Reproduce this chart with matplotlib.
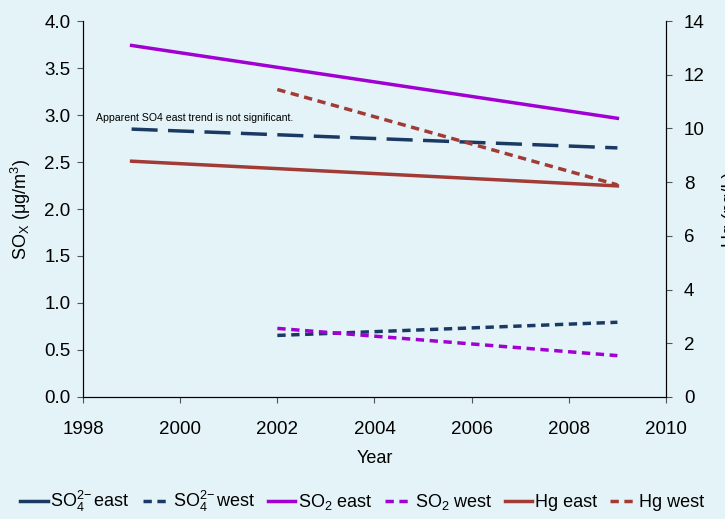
import matplotlib
matplotlib.use("Agg")
import matplotlib.pyplot as plt

# trend end points (left axis: SOx in ug/m3, right axis: Hg in ng/L)
years_long = [1999, 2009]
years_short = [2002, 2009]
so4_east = [2.85, 2.65]
so4_west = [0.655, 0.795]
so2_east = [3.74, 2.965]
so2_west = [0.73, 0.44]
hg_east = [8.78, 7.86]
hg_west = [11.45, 7.9]

navy = "#1B3A63"
purple = "#A000D2"
brick = "#A23B36"
bg = "#E4F3F7"

plt.rcParams["font.family"] = ["Liberation Sans", "DejaVu Sans"]

fig = plt.figure(figsize=(7.25, 5.19), dpi=100)
fig.patch.set_facecolor(bg)
ax = fig.add_axes([0.1145, 0.2351, 0.8041, 0.7244])
ax.set_facecolor(bg)
ax2 = ax.twinx()

lw = 2.5
long_dash = (7.5, 3.0)
short_dash = (2.4, 1.6)
ax.plot(years_long, so4_east, color=navy, lw=lw, dashes=long_dash, zorder=3)
ax.plot(years_short, so4_west, color=navy, lw=lw, dashes=short_dash, zorder=3)
ax.plot(years_long, so2_east, color=purple, lw=lw, zorder=3)
ax.plot(years_short, so2_west, color=purple, lw=lw, dashes=short_dash, zorder=3)
ax2.plot(years_long, hg_east, color=brick, lw=lw)
ax2.plot(years_short, hg_west, color=brick, lw=lw, dashes=short_dash)

ax.set_xlim(1998, 2010)
ax.set_ylim(0, 4)
ax2.set_ylim(0, 14)
ax.set_xticks(range(1998, 2011, 2))
ax.set_yticks([i * 0.5 for i in range(9)])
ax.set_yticklabels([f"{i * 0.5:.1f}" for i in range(9)])
ax2.set_yticks(range(0, 15, 2))

for a in (ax, ax2):
    a.spines["top"].set_visible(False)
    a.tick_params(labelsize=13.5, length=4, width=0.8, color="#555555")
ax.tick_params(axis="x", pad=13)
ax.tick_params(axis="y", pad=5)
ax2.tick_params(axis="y", pad=9)

ax.set_xlabel("Year", fontsize=13, labelpad=9)
ax.set_ylabel(r"SO$_\mathregular{X}$ ($\mathregular{\mu}$g/m$^\mathregular{3}$)", fontsize=13, labelpad=8)
ax2.set_ylabel("Hg (ng/L)", fontsize=13, labelpad=12)

ax.text(1998.27, 2.935, "Apparent SO4 east trend is not significant.", fontsize=7.6)

# legend uses plain line styles for each series
handles = [
    plt.Line2D([], [], color=navy, lw=lw),
    plt.Line2D([], [], color=navy, lw=lw, dashes=short_dash),
    plt.Line2D([], [], color=purple, lw=lw),
    plt.Line2D([], [], color=purple, lw=lw, dashes=short_dash),
    plt.Line2D([], [], color=brick, lw=lw),
    plt.Line2D([], [], color=brick, lw=lw, dashes=short_dash),
]
labels = [
    r"SO$_\mathregular{4}^\mathregular{2\!-}$east",
    r"SO$_\mathregular{4}^\mathregular{2\!-}$west",
    r"SO$_\mathregular{2}$ east",
    r"SO$_\mathregular{2}$ west",
    "Hg east",
    "Hg west",
]
fig.legend(handles, labels, loc="lower center", bbox_to_anchor=(0.5, -0.004), ncol=6,
           frameon=False, fontsize=13, handlelength=1.5, handletextpad=0.15,
           columnspacing=0.7, borderaxespad=0)

fig.savefig("out.png", dpi=100, facecolor=bg)
